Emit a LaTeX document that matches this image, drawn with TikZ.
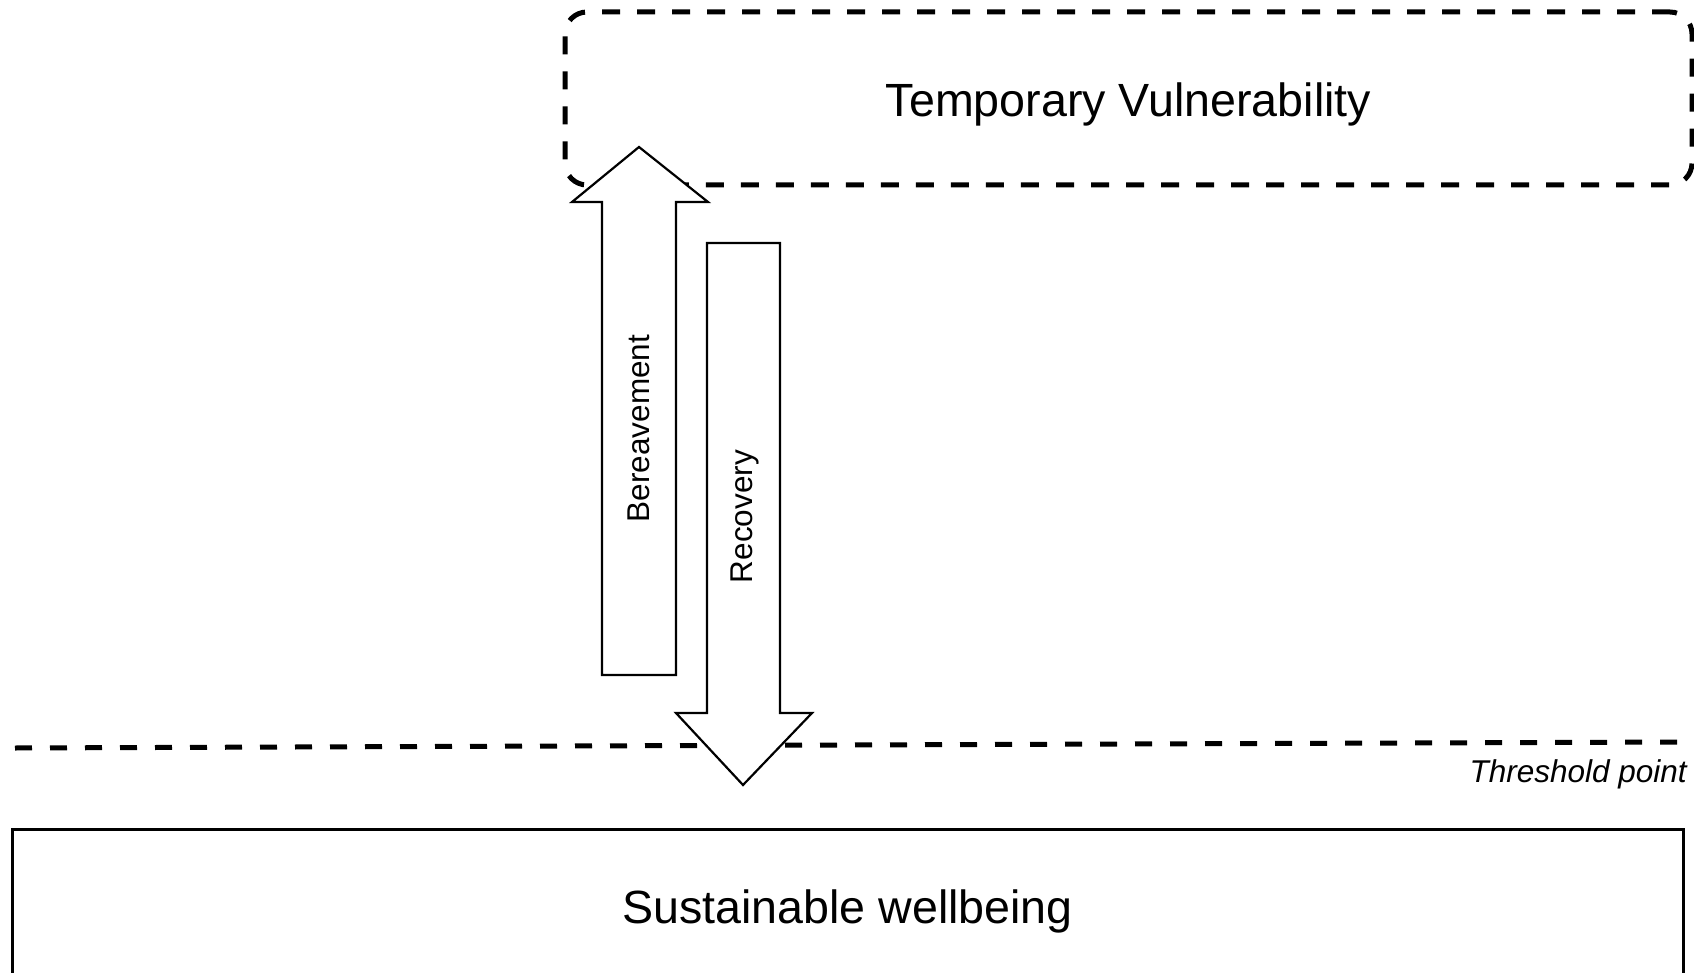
\documentclass[tikz,border=0pt]{standalone}
\usepackage{fontspec}
\setmainfont{Liberation Sans}
\usepackage{xcolor}

\tikzset{
  bigbox/.style = {draw, line width=3pt, minimum width=1671pt, minimum height=151pt,
                   text height=37pt, text depth=0pt, font=\fontsize{46.6}{56}\selectfont},
  vulnbox/.style = {draw, line width=5pt, dash pattern=on 18pt off 17pt, rounded corners=22pt,
                    minimum width=1127pt, minimum height=173pt, text height=37pt, text depth=0pt,
                    font=\fontsize{46.6}{56}\selectfont},
  blockarrow/.style = {draw, fill=white, line width=2.2pt, line join=miter},
  arrowlabel/.style = {rotate=90, inner sep=0pt, font=\fontsize{31.5}{38}\selectfont},
  threshold/.style = {line width=5pt, dash pattern=on 17pt off 18pt}
}

\begin{document}
\begin{tikzpicture}[x=1pt, y=-1pt]
\useasboundingbox (0,0) rectangle (1694,973);
\clip (0,0) rectangle (1694,973);

\node [vulnbox] (vuln) at (1128.5,98.5) {Temporary Vulnerability};
\node [bigbox] (wellbeing) at (847.5,904.5) {Sustainable wellbeing};

\coordinate (lineleft) at (15,748);
\coordinate (lineright) at (1690,742);
\draw [threshold] (lineleft) -- (lineright);
\node [anchor=base east, inner sep=0pt, font=\fontsize{31.5}{38}\selectfont\itshape] (thresh) at (1687,782) {Threshold point};

\coordinate (bertip) at (639,147);
\coordinate (recovtip) at (743,785);
\draw [blockarrow] (602,675) -- (602,202) -- (572,202) -- (bertip) -- (708,202) -- (676,202) -- (676,675) -- cycle;
\draw [blockarrow] (707,243) -- (707,713) -- (676,713) -- (recovtip) -- (812,713) -- (780,713) -- (780,243) -- cycle;
\node [arrowlabel] (bereave) at (639,428.5) {Bereavement};
\node [arrowlabel] (recov) at (745,516.5) {Recovery};
\end{tikzpicture}
\end{document}
